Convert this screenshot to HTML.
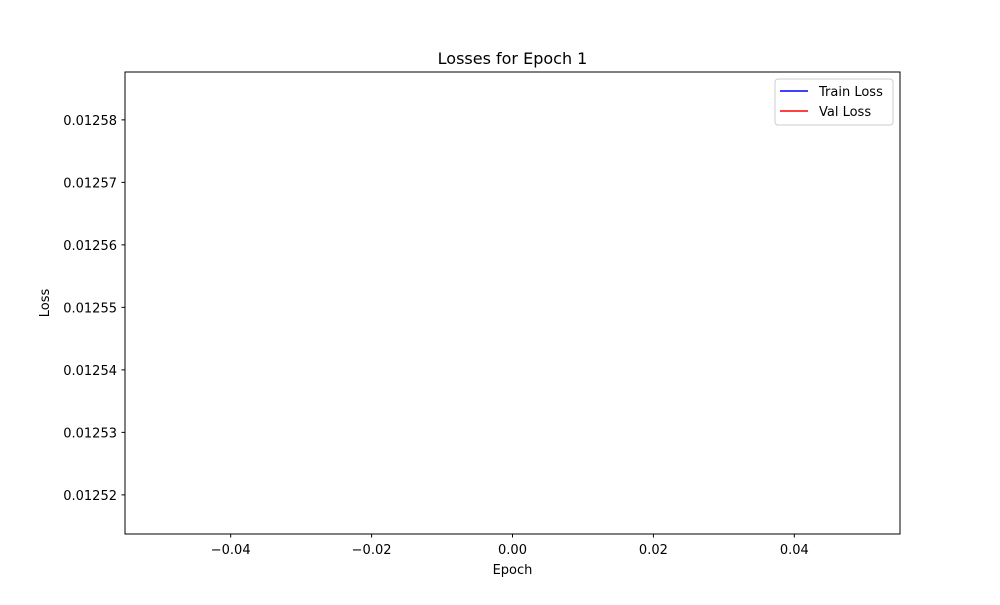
<!DOCTYPE html>
<html><head><meta charset="utf-8"><style>
body{margin:0;background:#fff;}
svg text{font-family:"DejaVu Sans","Liberation Sans",sans-serif;fill:#000;}
</style></head><body>
<svg id="chart" width="1000" height="600">
<rect width="1000" height="600" fill="#fff"/>
<text x="512.5" y="64" font-size="16" text-anchor="middle">Losses for Epoch 1</text>
<g id="xt"></g><g id="yt"></g><g id="series"></g>
<rect x="125" y="72" width="775" height="462" fill="none" stroke="#000" stroke-width="1"/>
<text x="512.5" y="574" font-size="13" text-anchor="middle">Epoch</text>
<text x="0" y="0" font-size="13" text-anchor="middle" transform="translate(49,303) rotate(-90)">Loss</text>
<g>
<rect x="775" y="79" width="118" height="46" rx="3" fill="#fff" stroke="#ccc"/>
<line x1="780" y1="91" x2="808" y2="91" stroke="blue" stroke-width="1.5"/>
<text x="819" y="96" font-size="13">Train Loss</text>
<line x1="780" y1="111" x2="808" y2="111" stroke="red" stroke-width="1.5"/>
<text x="819" y="116" font-size="13">Val Loss</text>
</g>
</svg>
<script>
const epochs=[0];
const trainLoss=[0.0125843];
const valLoss=[0.0125171];
const xTicks=[-0.04,-0.02,0,0.02,0.04];
const xTickLabels=["\u22120.04","\u22120.02","0.00","0.02","0.04"];
const yTicks=[0.01252,0.01253,0.01254,0.01255,0.01256,0.01257,0.01258];
const yTickLabels=["0.01252","0.01253","0.01254","0.01255","0.01256","0.01257","0.01258"];
const L=125,R=900,T=72,B=534;
const xmin=-0.055,xmax=0.055;
const all=trainLoss.concat(valLoss);
let dmin=Math.min(...all),dmax=Math.max(...all),pad=(dmax-dmin)*0.05||Math.abs(dmin)*0.05;
const ymin=dmin-pad,ymax=dmax+pad;
const sx=v=>L+(v-xmin)/(xmax-xmin)*(R-L);
const sy=v=>B-(v-ymin)/(ymax-ymin)*(B-T);
const NS="http://www.w3.org/2000/svg";
function mk(t,a,p){const e=document.createElementNS(NS,t);for(const k in a)e.setAttribute(k,a[k]);p.appendChild(e);return e;}
const xt=document.getElementById('xt'),yt=document.getElementById('yt'),sg=document.getElementById('series');
xTicks.forEach((v,i)=>{const x=sx(v);
const l=mk('line',{x1:x,x2:x,y1:B,y2:B+3.5,stroke:'#000'},xt);


const t=mk('text',{x:x,y:B+20,'font-size':13,'text-anchor':'middle'},xt);t.textContent=xTickLabels[i];

});
yTicks.forEach((v,i)=>{const y=sy(v);
const l=mk('line',{x1:L-3.5,x2:L,y1:y,y2:y,stroke:'#000'},yt);


const t=mk('text',{x:L-8,y:y+5,'font-size':13,'text-anchor':'end'},yt);t.textContent=yTickLabels[i];

});
function line(vals,color,name){const d=vals.map((v,i)=>(i?'L':'M')+sx(epochs[i])+' '+sy(v)).join(' ');
const p=mk('path',{d:d,fill:'none',stroke:color,'stroke-width':1.5},sg);

}
line(trainLoss,'blue','train-loss-line');
line(valLoss,'red','val-loss-line');
</script>
</body></html>
